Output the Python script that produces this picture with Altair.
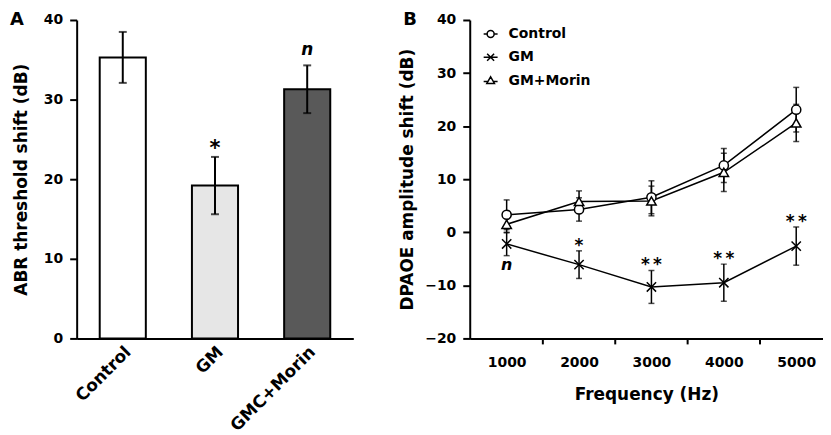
import altair as alt
import pandas as pd

# ---------------- Panel A data ----------------
groups = ["Control", "GM", "GMC+Morin"]
abr_mean = [35.3, 19.2, 31.3]
abr_err = [3.2, 3.6, 3.0]
abr_sig = ["", "*", "n"]
bar_fills = ["#ffffff", "#e6e6e6", "#595959"]

# ---------------- Panel B data ----------------
freqs = [1000, 2000, 3000, 4000, 5000]
series = ["Control", "GM", "GM+Morin"]
ctrl_mean = [3.3, 4.3, 6.6, 12.6, 23.1]
ctrl_err = [2.8, 2.2, 3.1, 3.2, 4.2]
gm_mean = [-2.2, -6.1, -10.3, -9.5, -2.6]
gm_err = [2.2, 2.6, 3.1, 3.5, 3.6]
morin_mean = [1.5, 5.8, 5.9, 11.3, 20.6]
morin_err = [1.6, 2.0, 2.8, 3.6, 3.5]
gm_sig = ["n", "*", "*\u2009*", "*\u2009*", "*\u2009*"]
minor_ticks = [1500, 2500, 3500, 4500]

FONT = "DejaVu Sans"

# ---------------- Panel A ----------------
df_a = pd.DataFrame({"group": groups, "mean": abr_mean, "err": abr_err, "sig": abr_sig})
df_a["lo"] = df_a["mean"] - df_a["err"]
df_a["hi"] = df_a["mean"] + df_a["err"]

ytitle_a = "ABR threshold shift (dB)"
xa = alt.X("group:N", sort=groups, title=None,
           scale=alt.Scale(paddingInner=0.5, paddingOuter=0.25),
           axis=alt.Axis(labelAngle=-45, ticks=False, labelFontSize=17, labelPadding=5))
ya_scale = alt.Scale(domain=[0, 40], nice=False)
ya_axis = alt.Axis(values=[0, 10, 20, 30, 40], tickSize=7, labelPadding=7, titlePadding=13)

base_a = alt.Chart(df_a)
bars = base_a.mark_bar(stroke="black", strokeWidth=2).encode(
    x=xa,
    y=alt.Y("mean:Q", scale=ya_scale, axis=ya_axis, title=ytitle_a),
    fill=alt.Fill("group:N", scale=alt.Scale(domain=groups, range=bar_fills), legend=None),
)
err_a = base_a.mark_rule(color="black", strokeWidth=2).encode(
    x=xa, y=alt.Y("lo:Q", scale=ya_scale, title=ytitle_a), y2="hi:Q"
)
caps_a = base_a.transform_fold(["lo", "hi"], as_=["k", "v"]).mark_tick(
    color="black", orient="horizontal", size=8, thickness=2
).encode(x=xa, y=alt.Y("v:Q", scale=ya_scale, title=ytitle_a))
sig_star_a = base_a.transform_filter("datum.sig == '*'").mark_text(
    font=FONT, fontSize=21, fontWeight="bold", baseline="middle", dy=-8, color="black"
).encode(x=xa, y=alt.Y("hi:Q", scale=ya_scale, title=ytitle_a), text="sig:N")
sig_n_a = base_a.transform_filter("datum.sig == 'n'").mark_text(
    font=FONT, fontSize=17, fontWeight="bold", fontStyle="italic", baseline="middle", dy=-15, color="black"
).encode(x=xa, y=alt.Y("hi:Q", scale=ya_scale, title=ytitle_a), text="sig:N")
letter_a = alt.Chart(pd.DataFrame({"t": ["A"]})).mark_text(
    font=FONT, fontSize=18, fontWeight="bold", align="center", baseline="middle", color="black"
).encode(text="t:N", x=alt.value(-60), y=alt.value(0))

panel_a = alt.layer(bars, err_a, caps_a, sig_star_a, sig_n_a, letter_a).properties(width=278, height=320)

# ---------------- Panel B ----------------
rows = []
for name, m, e in [("Control", ctrl_mean, ctrl_err), ("GM", gm_mean, gm_err), ("GM+Morin", morin_mean, morin_err)]:
    for f, mv, ev in zip(freqs, m, e):
        rows.append({"series": name, "freq": f, "value": mv, "err": ev})
df_b = pd.DataFrame(rows)
df_b["lo"] = df_b["value"] - df_b["err"]
df_b["hi"] = df_b["value"] + df_b["err"]
df_sig = df_b[df_b["series"] == "GM"].copy()
df_sig["sig"] = gm_sig

ytitle_b = "DPAOE amplitude shift (dB)"
xb_scale = alt.Scale(domain=[490, 5370], nice=False, zero=False)
xb_axis = alt.Axis(values=freqs, ticks=False, format="d", labelPadding=17, titlePadding=17)
xb = alt.X("freq:Q", scale=xb_scale, axis=xb_axis, title="Frequency (Hz)")
yb_scale = alt.Scale(domain=[-20, 40], nice=False, zero=False)
yb_axis = alt.Axis(values=[-20, -10, 0, 10, 20, 30, 40], tickSize=7, labelPadding=7, titlePadding=8)
yb = alt.Y("value:Q", scale=yb_scale, axis=yb_axis, title=ytitle_b)

base_b = alt.Chart(df_b)
minor = alt.Chart(pd.DataFrame({"freq": minor_ticks})).mark_rule(color="black", strokeWidth=2).encode(
    x=xb, y=alt.value(320), y2=alt.value(326)
)
lines = base_b.mark_line(color="black", strokeWidth=1.5).encode(x=xb, y=yb, detail="series:N")
err_b = base_b.mark_rule(color="black", strokeWidth=1.5).encode(
    x=xb, y=alt.Y("lo:Q", scale=yb_scale, title=ytitle_b), y2="hi:Q"
)
caps_b = base_b.transform_fold(["lo", "hi"], as_=["k", "v"]).mark_tick(
    color="black", orient="horizontal", size=6, thickness=1.5
).encode(x=xb, y=alt.Y("v:Q", scale=yb_scale, title=ytitle_b))
marker_shapes = ["circle", "M-1,-1L1,1M-1,1L1,-1", "triangle-up"]
points = base_b.mark_point(fill="white", stroke="black", strokeWidth=1.5, opacity=1, filled=False).encode(
    x=xb, y=yb,
    shape=alt.Shape("series:N", scale=alt.Scale(domain=series, range=marker_shapes), legend=None),
    size=alt.Size("series:N", scale=alt.Scale(domain=series, range=[85, 90, 85]), legend=None),
)
sig_up = alt.Chart(df_sig).transform_filter("datum.sig != 'n'").mark_text(
    font=FONT, fontSize=17, fontWeight="bold", baseline="middle", dy=-5, color="black"
).encode(x=xb, y=alt.Y("hi:Q", scale=yb_scale, title=ytitle_b), text="sig:N")
sig_n = alt.Chart(df_sig).transform_filter("datum.sig == 'n'").mark_text(
    font=FONT, fontSize=16, fontWeight="bold", fontStyle="italic", baseline="middle", dy=9, color="black"
).encode(x=xb, y=alt.Y("lo:Q", scale=yb_scale, title=ytitle_b), text="sig:N")
letter_b = alt.Chart(pd.DataFrame({"t": ["B"]})).mark_text(
    font=FONT, fontSize=18, fontWeight="bold", align="center", baseline="middle", color="black"
).encode(text="t:N", x=alt.value(-60), y=alt.value(0))

inner_b = alt.layer(minor, lines, err_b, caps_b, points, sig_up, sig_n, letter_b)

# legend (line-through-marker symbols), drawn as its own small layer
legend_paths = [
    "M0.5,0A0.5,0.5,0,1,1,-0.5,0A0.5,0.5,0,1,1,0.5,0ZM-1,0L-0.5,0M0.5,0L1,0",
    "M-0.5,-0.5L0.5,0.5M-0.5,0.5L0.5,-0.5M-1,0L1,0",
    "M0,-0.55L0.55,0.4L-0.55,0.4ZM-1,0.1L-0.38,0.1M0.38,0.1L1,0.1",
]
df_leg = pd.DataFrame({"series": series})
leg_y = alt.Y("series:N", sort=series, axis=None,
              scale=alt.Scale(type="point", domain=series, range=[14, 61], padding=0))
leg_sym = alt.Chart(df_leg).mark_point(fill="white", stroke="black", strokeWidth=1.5, opacity=1,
                                       filled=False, size=196).encode(
    x=alt.value(21), y=leg_y,
    shape=alt.Shape("series:N", scale=alt.Scale(domain=series, range=legend_paths), legend=None),
)
leg_txt = alt.Chart(df_leg).mark_text(font=FONT, fontSize=14, fontWeight="bold", align="left",
                                      baseline="middle", color="black").encode(
    x=alt.value(39), y=leg_y, text="series:N"
)
legend_b = alt.layer(leg_sym, leg_txt)

panel_b = alt.layer(inner_b, legend_b).resolve_scale(
    y="independent", shape="independent"
).properties(width=355, height=320)

chart = alt.hconcat(panel_a, panel_b, spacing=45).properties(
    padding={"left": 2, "top": 2, "right": 0, "bottom": 0}
).configure_view(stroke=None).configure_axis(
    domainColor="black", domainWidth=2, tickColor="black", tickWidth=2, grid=False,
    labelFont=FONT, labelFontSize=14, labelFontWeight="bold", labelColor="black",
    titleFont=FONT, titleFontSize=17, titleFontWeight="bold", titleColor="black",
)

chart.save("out.html", embed_options={"renderer": "svg", "actions": False})
